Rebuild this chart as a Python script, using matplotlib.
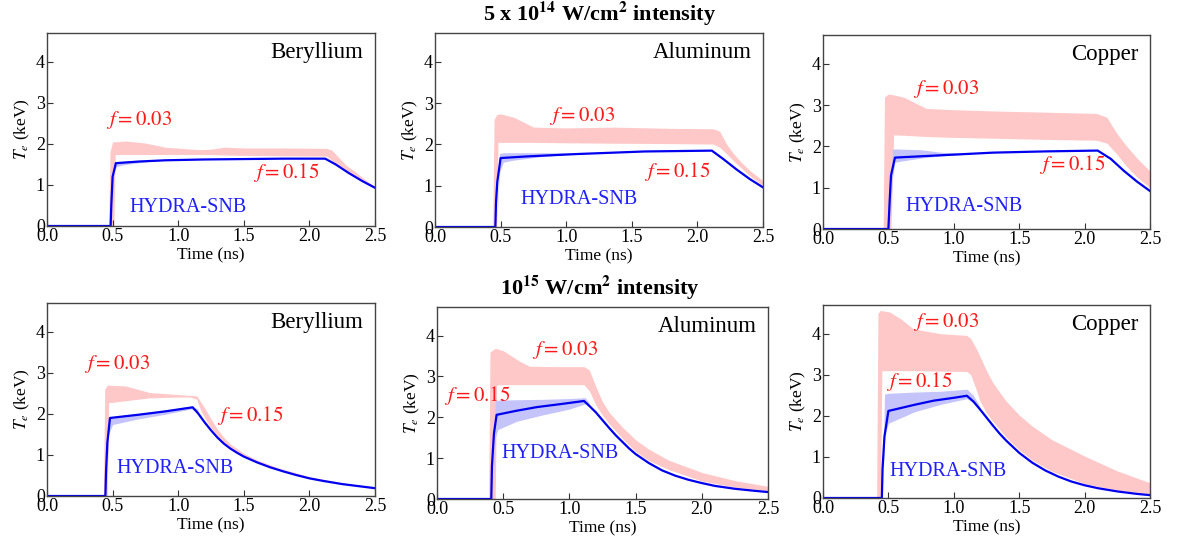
import matplotlib
matplotlib.use("Agg")
import matplotlib.pyplot as plt

plt.rcParams['font.family'] = ['Liberation Serif', 'DejaVu Serif']
plt.rcParams['mathtext.fontset'] = 'stix'

# ---- top row: 5e14 W/cm2 ----
# Beryllium
be1_red_t = [0.47, 0.48, 0.50, 0.51, 0.52, 0.6, 0.75, 0.9, 1.15, 1.25, 1.35, 1.5, 1.8, 2.13, 2.17, 2.22, 2.28, 2.35, 2.42, 2.5]
be1_red_hi = [0, 1.8, 2.05, 2.05, 2.05, 2.07, 2.02, 1.92, 1.86, 1.87, 1.92, 1.90, 1.90, 1.89, 1.85, 1.68, 1.48, 1.32, 1.14, 0.96]
be1_red_lo = [0, 0, 0, 0, 1.74, 1.74, 1.74, 1.74, 1.74, 1.74, 1.73, 1.72, 1.71, 1.70, 1.60, 1.50, 1.37, 1.22, 1.08, 0.94]
be1_blu_t = [0.49, 0.51, 0.53, 0.6, 0.8, 1.0]
be1_blu_hi = [0, 1.56, 1.57, 1.58, 1.61, 1.62]
be1_blu_lo = [0, 1.30, 1.45, 1.50, 1.58, 1.61]
be1_t = [0, 0.485, 0.49, 0.50, 0.525, 0.7, 0.9, 1.2, 1.5, 1.8, 2.12, 2.2, 2.3, 2.4, 2.5]
be1_y = [0, 0, 0.5, 1.2, 1.53, 1.57, 1.60, 1.62, 1.63, 1.64, 1.64, 1.50, 1.29, 1.10, 0.93]

# Aluminum
al1_red_t = [0.44, 0.45, 0.47, 0.48, 0.50, 0.60, 0.75, 1.0, 1.36, 1.8, 2.12, 2.17, 2.22, 2.27, 2.33, 2.4, 2.5]
al1_red_hi = [0, 2.6, 2.72, 2.73, 2.74, 2.66, 2.42, 2.40, 2.42, 2.39, 2.38, 2.32, 2.02, 1.80, 1.58, 1.37, 1.12]
al1_red_lo = [0, 0, 0, 2.05, 2.05, 2.05, 2.05, 2.04, 2.03, 2.02, 2.01, 1.93, 1.78, 1.62, 1.44, 1.24, 1.00]
al1_blu_t = [0.47, 0.49, 0.52, 0.6, 0.8, 1.0, 1.2]
al1_blu_hi = [0, 1.78, 1.80, 1.80, 1.80, 1.80, 1.79]
al1_blu_lo = [0, 1.30, 1.57, 1.62, 1.70, 1.76, 1.78]
al1_t = [0, 0.46, 0.465, 0.475, 0.50, 0.7, 1.1, 1.6, 2.11, 2.2, 2.3, 2.4, 2.5]
al1_y = [0, 0, 0.6, 1.1, 1.67, 1.71, 1.77, 1.83, 1.85, 1.64, 1.39, 1.16, 0.96]

# Copper
cu1_red_t = [0.46, 0.47, 0.50, 0.52, 0.54, 0.62, 0.79, 1.0, 1.3, 1.7, 2.09, 2.17, 2.21, 2.25, 2.32, 2.4, 2.5]
cu1_red_hi = [0, 3.2, 3.27, 3.26, 3.25, 3.19, 2.92, 2.89, 2.86, 2.83, 2.80, 2.71, 2.50, 2.30, 2.01, 1.72, 1.40]
cu1_red_lo = [0, 0, 0, 0, 2.28, 2.27, 2.24, 2.22, 2.20, 2.17, 2.15, 2.08, 1.94, 1.80, 1.52, 1.26, 1.00]
cu1_blu_t = [0.51, 0.53, 0.55, 0.75, 0.9, 1.1]
cu1_blu_hi = [0, 1.93, 1.94, 1.92, 1.86, 1.83]
cu1_blu_lo = [0, 1.20, 1.62, 1.72, 1.77, 1.81]
cu1_t = [0, 0.50, 0.51, 0.52, 0.55, 0.8, 1.3, 1.7, 2.10, 2.2, 2.3, 2.4, 2.5]
cu1_y = [0, 0, 0.7, 1.3, 1.73, 1.77, 1.85, 1.88, 1.90, 1.70, 1.41, 1.15, 0.92]

# ---- bottom row: 1e15 W/cm2 ----
be2_red_t = [0.43, 0.44, 0.46, 0.47, 0.60, 0.78, 1.0, 1.09, 1.14, 1.17, 1.21, 1.25, 1.3, 1.35, 1.4, 1.5, 1.6, 1.75, 2.0, 2.25, 2.5]
be2_red_hi = [0, 2.6, 2.70, 2.70, 2.68, 2.52, 2.47, 2.45, 2.44, 2.30, 2.10, 1.88, 1.62, 1.42, 1.26, 1.04, 0.88, 0.70, 0.47, 0.32, 0.21]
be2_red_lo = [0, 0, 0, 2.27, 2.32, 2.39, 2.41, 2.41, 2.36, 2.10, 1.86, 1.66, 1.46, 1.30, 1.17, 0.98, 0.84, 0.66, 0.44, 0.30, 0.20]
be2_blu_t = [0.45, 0.47, 0.50, 0.7, 0.9, 1.1, 1.15]
be2_blu_hi = [0, 1.92, 1.93, 2.01, 2.09, 2.18, 2.12]
be2_blu_lo = [0, 1.50, 1.74, 1.88, 1.99, 2.12, 2.02]
be2_t = [0, 0.445, 0.45, 0.46, 0.48, 0.7, 0.9, 1.11, 1.15, 1.2, 1.25, 1.3, 1.35, 1.4, 1.45, 1.5, 1.6, 1.7, 1.8, 1.9, 2.0, 2.1, 2.25, 2.4, 2.5]
be2_y = [0, 0, 0.6, 1.3, 1.90, 1.98, 2.06, 2.16, 2.02, 1.80, 1.60, 1.42, 1.27, 1.15, 1.05, 0.96, 0.82, 0.70, 0.60, 0.51, 0.43, 0.37, 0.29, 0.23, 0.19]

al2_red_t = [0.39, 0.40, 0.44, 0.45, 0.50, 0.63, 0.70, 0.9, 1.11, 1.15, 1.2, 1.25, 1.3, 1.4, 1.5, 1.6, 1.75, 2.0, 2.25, 2.5]
al2_red_hi = [0, 3.6, 3.69, 3.68, 3.63, 3.36, 3.25, 3.24, 3.24, 3.16, 2.75, 2.38, 2.12, 1.76, 1.45, 1.22, 0.95, 0.65, 0.45, 0.31]
al2_red_lo = [0, 0, 0, 2.79, 2.80, 2.80, 2.80, 2.80, 2.80, 2.65, 2.30, 2.05, 1.84, 1.48, 1.16, 0.94, 0.72, 0.44, 0.29, 0.20]
al2_blu_t = [0.42, 0.44, 0.46, 0.6, 0.8, 1.0, 1.12, 1.15]
al2_blu_hi = [0, 2.40, 2.42, 2.43, 2.44, 2.46, 2.48, 2.35]
al2_blu_lo = [0, 1.50, 1.70, 1.90, 2.06, 2.20, 2.33, 2.28]
al2_t = [0, 0.41, 0.415, 0.43, 0.45, 0.6, 0.755, 0.95, 1.11, 1.15, 1.2, 1.25, 1.3, 1.35, 1.4, 1.45, 1.5, 1.6, 1.7, 1.8, 1.9, 2.0, 2.1, 2.25, 2.4, 2.5]
al2_y = [0, 0, 0.8, 1.6, 2.06, 2.16, 2.25, 2.33, 2.40, 2.28, 2.12, 1.93, 1.74, 1.56, 1.40, 1.24, 1.10, 0.88, 0.70, 0.57, 0.47, 0.39, 0.32, 0.25, 0.20, 0.17]

cu2_red_t = [0.41, 0.42, 0.44, 0.45, 0.51, 0.60, 0.69, 0.9, 1.10, 1.13, 1.17, 1.2, 1.25, 1.3, 1.4, 1.5, 1.6, 1.75, 2.0, 2.25, 2.5]
cu2_red_hi = [0, 4.5, 4.57, 4.56, 4.53, 4.35, 4.12, 4.00, 3.96, 3.88, 3.65, 3.45, 3.10, 2.80, 2.36, 2.02, 1.75, 1.42, 1.02, 0.66, 0.37]
cu2_red_lo = [0, 0, 0, 3.10, 3.10, 3.10, 3.10, 3.09, 3.08, 3.00, 2.65, 2.36, 2.07, 1.86, 1.48, 1.17, 0.92, 0.65, 0.35, 0.19, 0.10]
cu2_blu_t = [0.455, 0.47, 0.50, 0.7, 0.9, 1.1, 1.15, 1.2]
cu2_blu_hi = [0, 2.53, 2.55, 2.58, 2.60, 2.65, 2.50, 2.22]
cu2_blu_lo = [0, 1.50, 1.82, 2.10, 2.28, 2.42, 2.32, 2.12]
cu2_t = [0, 0.45, 0.455, 0.47, 0.50, 0.7, 0.845, 1.0, 1.10, 1.15, 1.2, 1.25, 1.3, 1.35, 1.4, 1.5, 1.6, 1.7, 1.8, 1.9, 2.0, 2.1, 2.25, 2.4, 2.5]
cu2_y = [0, 0, 0.7, 1.5, 2.12, 2.27, 2.37, 2.44, 2.49, 2.35, 2.16, 1.96, 1.76, 1.57, 1.40, 1.10, 0.86, 0.67, 0.52, 0.40, 0.31, 0.24, 0.16, 0.10, 0.07]

materials = ["Beryllium", "Aluminum", "Copper"]

panels = [
    (be1_red_t, be1_red_hi, be1_red_lo, be1_blu_t, be1_blu_hi, be1_blu_lo, be1_t, be1_y,
     (0.45, 2.46), (1.57, 1.17), (0.63, 0.34)),
    (al1_red_t, al1_red_hi, al1_red_lo, al1_blu_t, al1_blu_hi, al1_blu_lo, al1_t, al1_y,
     (0.87, 2.58), (1.59, 1.20), (0.65, 0.55)),
    (cu1_red_t, cu1_red_hi, cu1_red_lo, cu1_blu_t, cu1_blu_hi, cu1_blu_lo, cu1_t, cu1_y,
     (0.69, 3.27), (1.65, 1.44), (0.63, 0.43)),
    (be2_red_t, be2_red_hi, be2_red_lo, be2_blu_t, be2_blu_hi, be2_blu_lo, be2_t, be2_y,
     (0.285, 3.09), (1.295, 1.82), (0.53, 0.56)),
    (al2_red_t, al2_red_hi, al2_red_lo, al2_blu_t, al2_blu_hi, al2_blu_lo, al2_t, al2_y,
     (0.72, 3.53), (0.055, 2.39), (0.49, 1.00)),
    (cu2_red_t, cu2_red_hi, cu2_red_lo, cu2_blu_t, cu2_blu_hi, cu2_blu_lo, cu2_t, cu2_y,
     (0.69, 4.17), (0.48, 2.70), (0.51, 0.53)),
]

# axes boxes in pixels (left, top, right, bottom)
boxes = [(47, 33, 375, 226), (435, 33, 763, 227), (823, 35, 1150, 229),
         (47, 303, 375, 496), (437, 307, 768, 499), (823, 305, 1150, 498)]

W, H = 1178, 546
fig = plt.figure(figsize=(W / 100, H / 100), dpi=100)

for i, p in enumerate(panels):
    l, t, r, b = boxes[i]
    ax = fig.add_axes([l / W, 1 - b / H, (r - l) / W, (b - t) / H])
    rt, rhi, rlo, bt, bhi, blo, lt, ly, f03, f15, hyd = p
    ax.fill_between(rt, rlo, rhi, color='#ffc8c8', lw=0)
    ax.fill_between(bt, blo, bhi, color='#c4c4fa', lw=0)
    ax.plot(lt, ly, color='#0000f0', lw=1.6)
    ax.set_xlim(0, 2.5)
    ax.set_ylim(0, 4.7)
    ax.set_xticks([0, 0.5, 1.0, 1.5, 2.0, 2.5])
    ax.set_xticklabels(['0.0', '0.5', '1.0', '1.5', '2.0', '2.5'])
    ax.set_yticks([0, 1, 2, 3, 4])
    ax.tick_params(direction='in', labelsize=13, pad=1.5, length=4, color='#333333')
    for s in ax.spines.values():
        s.set_color('#444444')
        s.set_linewidth(1.0)
    ax.set_xlabel('Time (ns)', fontsize=12.5, labelpad=1.5)
    ax.set_ylabel(r'$T_e$ (keV)', fontsize=12.5, labelpad=3)
    ax.text(0.965, 0.955, materials[i % 3], transform=ax.transAxes,
            ha='right', va='top', fontsize=16.5)
    ax.text(f03[0], f03[1], r'$f = 0.03$', color='#ff1a1a', fontsize=15, va='baseline')
    ax.text(f15[0], f15[1], r'$f = 0.15$', color='#ff1a1a', fontsize=15, va='baseline')
    ax.text(hyd[0], hyd[1], 'HYDRA-SNB', color='#2020ff', fontsize=14.5, va='baseline')

fig.text(0.509, 0.975, r'5 x 10$^{\mathbf{14}}$ W/cm$^{\mathbf{2}}$ intensity',
         ha='center', va='center', fontsize=16, fontweight='bold')
fig.text(0.509, 0.473, r'10$^{\mathbf{15}}$ W/cm$^{\mathbf{2}}$ intensity',
         ha='center', va='center', fontsize=16, fontweight='bold')

fig.savefig('out.png', dpi=100)
